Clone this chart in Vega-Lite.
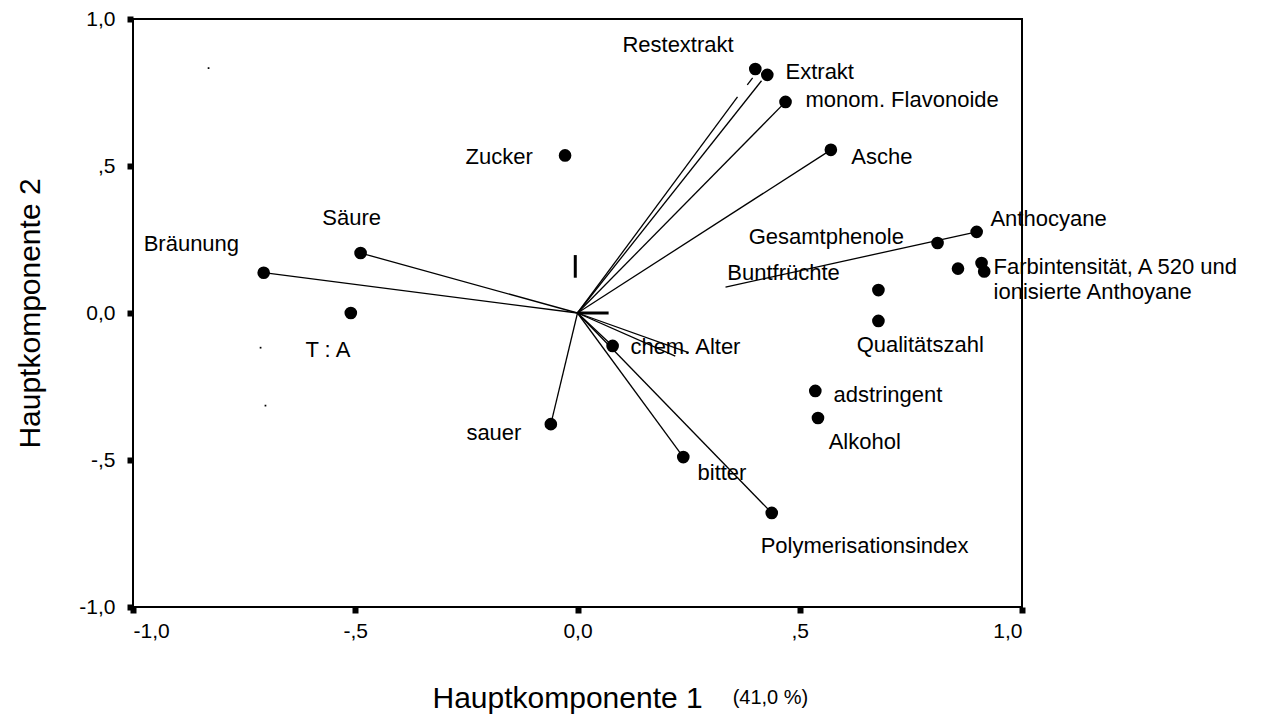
{
  "$schema": "https://vega.github.io/schema/vega-lite/v6.json",
  "autosize": {"type": "none"},
  "width": 889,
  "height": 588,
  "padding": {"left": 133, "top": 19, "right": 248, "bottom": 107},
  "background": "white",
  "config": {
    "view": {"stroke": "black", "strokeWidth": 2},
    "axis": {
      "domain": false, "grid": false,
      "tickColor": "black", "tickWidth": 6, "tickSize": 6,
      "labelFont": "Liberation Sans", "labelFontSize": 21, "labelColor": "black",
      "titleFont": "Liberation Sans", "titleFontSize": 30, "titleFontWeight": "normal", "titleColor": "black"
    }
  },
  "datasets": {
    "points": [
      {"name": "Restextrakt", "x": 0.40, "y": 0.83},
      {"name": "Extrakt", "x": 0.427, "y": 0.81},
      {"name": "monom. Flavonoide", "x": 0.468, "y": 0.718},
      {"name": "Asche", "x": 0.57, "y": 0.555},
      {"name": "Zucker", "x": -0.028, "y": 0.536},
      {"name": "Säure", "x": -0.488, "y": 0.204},
      {"name": "Bräunung", "x": -0.706, "y": 0.137},
      {"name": "T : A", "x": -0.51, "y": 0.0},
      {"name": "Anthocyane", "x": 0.898, "y": 0.276},
      {"name": "Gesamtphenole", "x": 0.81, "y": 0.238},
      {"name": "Farbintensität", "x": 0.856, "y": 0.151},
      {"name": "A 520", "x": 0.909, "y": 0.170},
      {"name": "ionisierte Anthoyane", "x": 0.915, "y": 0.141},
      {"name": "Buntfrüchte", "x": 0.677, "y": 0.078},
      {"name": "Qualitätszahl", "x": 0.677, "y": -0.027},
      {"name": "chem. Alter", "x": 0.079, "y": -0.112},
      {"name": "sauer", "x": -0.06, "y": -0.378},
      {"name": "bitter", "x": 0.238, "y": -0.49},
      {"name": "Polymerisationsindex", "x": 0.437, "y": -0.68},
      {"name": "adstringent", "x": 0.535, "y": -0.265},
      {"name": "Alkohol", "x": 0.541, "y": -0.357}
    ],
    "labels": [
      {"text": "Restextrakt", "x": 0.101, "y": 0.912},
      {"text": "Extrakt", "x": 0.468, "y": 0.82},
      {"text": "monom. Flavonoide", "x": 0.513, "y": 0.724},
      {"text": "Asche", "x": 0.616, "y": 0.531},
      {"text": "Zucker", "x": -0.252, "y": 0.531},
      {"text": "Säure", "x": -0.574, "y": 0.323},
      {"text": "Bräunung", "x": -0.976, "y": 0.235},
      {"text": "T : A", "x": -0.612, "y": -0.126},
      {"text": "Anthocyane", "x": 0.929, "y": 0.32},
      {"text": "Gesamtphenole", "x": 0.385, "y": 0.259},
      {"text": "Buntfrüchte", "x": 0.337, "y": 0.136},
      {"text": "Farbintensität, A 520 und", "x": 0.936, "y": 0.157},
      {"text": "ionisierte Anthoyane", "x": 0.936, "y": 0.071},
      {"text": "Qualitätszahl", "x": 0.628, "y": -0.109},
      {"text": "chem. Alter", "x": 0.119, "y": -0.116},
      {"text": "adstringent", "x": 0.576, "y": -0.279},
      {"text": "sauer", "x": -0.25, "y": -0.408},
      {"text": "Alkohol", "x": 0.565, "y": -0.439},
      {"text": "bitter", "x": 0.27, "y": -0.544},
      {"text": "Polymerisationsindex", "x": 0.412, "y": -0.793}
    ],
    "segments": [
      {"x": 0, "y": 0, "x2": -0.706, "y2": 0.137},
      {"x": 0, "y": 0, "x2": -0.488, "y2": 0.204},
      {"x": 0, "y": 0, "x2": 0.36, "y2": 0.735},
      {"x": 0.382, "y": 0.776, "x2": 0.394, "y2": 0.80},
      {"x": 0, "y": 0, "x2": 0.414, "y2": 0.79},
      {"x": 0, "y": 0, "x2": 0.468, "y2": 0.718},
      {"x": 0, "y": 0, "x2": 0.57, "y2": 0.555},
      {"x": 0, "y": 0, "x2": -0.06, "y2": -0.378},
      {"x": 0, "y": 0, "x2": 0.238, "y2": -0.49},
      {"x": 0, "y": 0, "x2": 0.437, "y2": -0.68},
      {"x": 0, "y": 0, "x2": 0.079, "y2": -0.112},
      {"x": 0, "y": 0, "x2": 0.25, "y2": -0.135},
      {"x": 0, "y": 0, "x2": 0.22, "y2": -0.147},
      {"x": 0.333, "y": 0.088, "x2": 0.898, "y2": 0.276}
    ],
    "thick": [
      {"x": 0, "y": 0, "x2": 0.07, "y2": 0},
      {"x": -0.005, "y": 0.12, "x2": -0.005, "y2": 0.197}
    ],
    "specks": [
      {"x": -0.83, "y": 0.833},
      {"x": -0.713, "y": -0.118},
      {"x": -0.702, "y": -0.315}
    ],
    "zero": [{"v": 0}],
    "note": [{"text": "(41,0 %)", "x": 0.349, "y": -1.31}]
  },
  "encoding": {
    "x": {
      "field": "x", "type": "quantitative",
      "scale": {"domain": [-1, 1], "nice": false, "zero": false},
      "axis": {
        "title": "Hauptkomponente 1",
        "values": [-1, -0.5, 0, 0.5, 1],
        "labelExpr": "datum.value == 1 ? '1,0' : datum.value == 0.5 ? ',5' : datum.value == 0 ? '0,0' : datum.value == -0.5 ? '-,5' : '-1,0'",
        "labelPadding": 7, "tickWidth": 6, "tickSize": 6, "tickCap": "butt",
        "titleX": 299, "titleY": 91, "titleAlign": "left", "titleBaseline": "middle"
      }
    },
    "y": {
      "field": "y", "type": "quantitative",
      "scale": {"domain": [-1, 1], "nice": false, "zero": false},
      "axis": {
        "title": "Hauptkomponente 2",
        "values": [-1, -0.5, 0, 0.5, 1],
        "labelExpr": "datum.value == 1 ? '1,0' : datum.value == 0.5 ? ',5' : datum.value == 0 ? '0,0' : datum.value == -0.5 ? '-,5' : '-1,0'",
        "labelPadding": 12, "tickWidth": 6, "tickSize": 6, "tickCap": "butt",
        "titleX": -103, "titleY": 294, "titleAlign": "center", "titleBaseline": "middle", "titleAngle": -90
      }
    }
  },
  "layer": [
    {
      "data": {"name": "zero"},
      "mark": {"type": "rule", "color": "black", "strokeWidth": 2},
      "encoding": {"x": {"datum": 0, "type": "quantitative"}, "y": null}
    },
    {
      "data": {"name": "zero"},
      "mark": {"type": "rule", "color": "black", "strokeWidth": 2},
      "encoding": {"y": {"datum": 0, "type": "quantitative"}, "x": null}
    },
    {
      "data": {"name": "segments"},
      "mark": {"type": "rule", "color": "black", "strokeWidth": 1.3},
      "encoding": {"x2": {"field": "x2"}, "y2": {"field": "y2"}}
    },
    {
      "data": {"name": "thick"},
      "mark": {"type": "rule", "color": "black", "strokeWidth": 3},
      "encoding": {"x2": {"field": "x2"}, "y2": {"field": "y2"}}
    },
    {
      "data": {"name": "points"},
      "mark": {"type": "point", "shape": "circle", "filled": true, "color": "black", "size": 160, "opacity": 1}
    },
    {
      "data": {"name": "specks"},
      "mark": {"type": "point", "shape": "square", "filled": true, "color": "black", "size": 3, "opacity": 1}
    },
    {
      "data": {"name": "labels"},
      "mark": {"type": "text", "align": "left", "baseline": "middle", "font": "Liberation Sans", "fontSize": 22, "color": "black"},
      "encoding": {"text": {"field": "text"}}
    },
    {
      "data": {"name": "note"},
      "mark": {"type": "text", "align": "left", "baseline": "middle", "font": "Liberation Sans", "fontSize": 20, "color": "black", "clip": false},
      "encoding": {"text": {"field": "text"}}
    }
  ]
}
